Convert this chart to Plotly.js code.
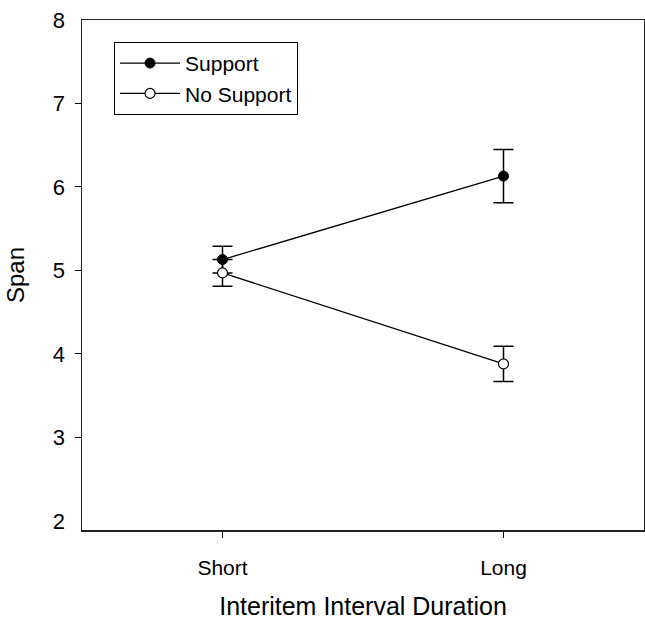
<!DOCTYPE html>
<html>
<head>
<meta charset="utf-8">
<script src="https://cdn.plot.ly/plotly-3.0.1.min.js"></script>
<style>html,body{margin:0;padding:0;background:#fff;}#chart{width:645px;height:620px;}</style>
</head>
<body>
<div id="chart"></div>
<script>
var categories = ["Short", "Long"];
var xPos = [0, 1];
var supportValues = [5.13, 6.13];
var supportErrors = [0.16, 0.32];
var noSupportValues = [4.97, 3.88];
var noSupportErrors = [0.16, 0.21];
var yTickLabels = [2, 3, 4, 5, 6, 7, 8];
var yTickMarks = [3, 4, 5, 6, 7];

var font = "Liberation Sans, Arial, Helvetica, sans-serif";

var traces = [
  {
    x: xPos, y: supportValues, name: "Support", type: "scatter", mode: "lines+markers",
    line: {color: "#000", width: 1.3},
    marker: {symbol: "circle", size: 10, color: "#000", line: {color: "#000", width: 1}},
    error_y: {type: "data", array: supportErrors, visible: true, color: "#000", thickness: 1.5, width: 10}
  },
  {
    x: xPos, y: noSupportValues, name: "No Support", type: "scatter", mode: "lines+markers",
    line: {color: "#000", width: 1.3},
    marker: {symbol: "circle", size: 10, color: "#fff", line: {color: "#000", width: 1.2}},
    error_y: {type: "data", array: noSupportErrors, visible: true, color: "#000", thickness: 1.5, width: 10}
  },
  {
    x: [xPos[0]], y: [yTickMarks[0]], yaxis: "y2", type: "scatter", mode: "markers",
    marker: {opacity: 0}, showlegend: false, hoverinfo: "skip"
  }
];

var layout = {
  width: 645, height: 620,
  margin: {l: 82, r: 1, t: 20, b: 90},
  paper_bgcolor: "#fff", plot_bgcolor: "#fff",
  font: {family: font, color: "#000", size: 21},
  showlegend: true,
  legend: {
    x: 0.057, y: 0.957, xanchor: "left", yanchor: "top",
    bordercolor: "#000", borderwidth: 1, bgcolor: "#fff",
    font: {family: font, size: 21, color: "#000"},
    tracegroupgap: 0, itemwidth: 60
  },
  xaxis: {
    range: [-0.5, 1.5],
    tickvals: xPos, ticktext: categories,
    ticks: "outside", ticklen: 6, tickwidth: 1, tickcolor: "#000",
    ticklabelstandoff: 12,
    showline: true, linecolor: "#222", linewidth: 1.5, mirror: true,
    showgrid: false, zeroline: false,
    tickfont: {family: font, size: 21},
    title: {text: "Interitem Interval Duration", font: {family: font, size: 25}}
  },
  yaxis: {
    range: [1.89, 8],
    tickvals: yTickLabels, ticktext: yTickLabels.map(String),
    ticks: "", ticklabelstandoff: 11,
    showline: true, linecolor: "#222", linewidth: 1.5, mirror: true,
    showgrid: false, zeroline: false,
    tickfont: {family: font, size: 22},
    title: {text: "Span", font: {family: font, size: 24}}
  },
  yaxis2: {
    overlaying: "y", side: "left", range: [1.89, 8],
    tickvals: yTickMarks, showticklabels: false,
    ticks: "outside", ticklen: 6, tickwidth: 1, tickcolor: "#000",
    showline: false, showgrid: false, zeroline: false
  }
};

Plotly.newPlot("chart", traces, layout, {displayModeBar: false, staticPlot: true});
</script>
</body>
</html>
